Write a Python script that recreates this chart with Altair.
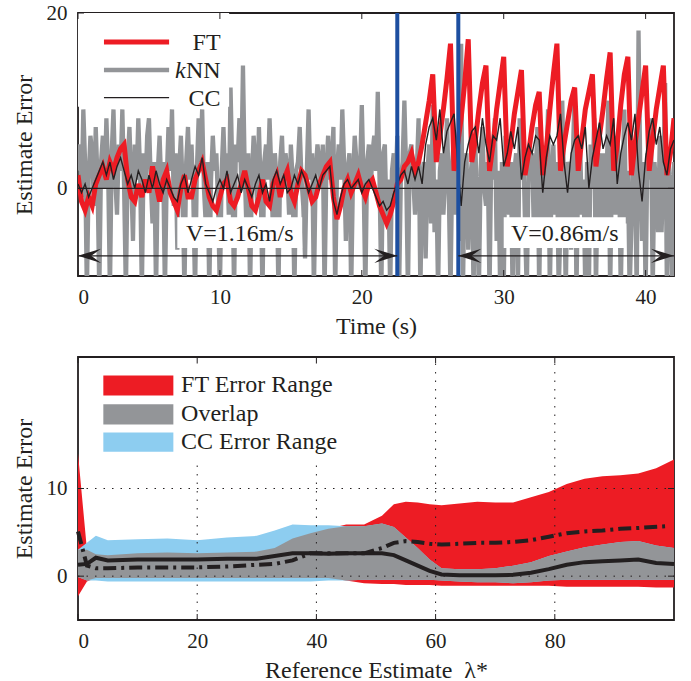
import altair as alt
import pandas as pd

# ---------------- top panel data (Estimate Error vs time) ----------------
STEP = 0.25          # FT / CC sample spacing (s)
KNN_STEP = 0.125     # kNN sample spacing (s)
ft_err = [
    1.5, -1.5, -2.5, -1.0,  -2.0, 0.5, 1.5, 2.5,  1.0, 3.0, 2.0, 3.5,  4.5, 5.0, 1.0, -1.0,
    -1.5, 0.5, -1.0, 1.0,  -0.5, 2.5, 0.5, -1.5,  1.0, 2.0, -0.5, -1.5,  -2.5, 0.0, 1.5, -1.0,
    -1.0, 1.0, 2.0, 3.0,  1.0, -1.0, -2.0, -2.5,  -1.0, 0.5, 1.0, -1.5,  -2.0, -1.0, 0.5, 2.0,
    0.0, -2.0, -2.5, -1.0,  1.0, -1.5, -2.0, 0.5,  1.5, -1.0, 1.0, 2.0,  -0.5, -1.5, 0.5, 2.0,
    1.5, 0.0, -1.5, -1.0,  0.5, 1.5, 2.5, 3.0,  -1.0, -3.5, -2.0, 0.0,  1.0, -0.5, 0.5, 1.5,
    0.0, -1.0, 0.5, 1.0,  -0.5, -2.0, -3.0, -4.0,  -3.0, -1.5,
    0.5, 1.0,
    2.5, 3.0, 4.0, 2.0,  3.0, 5.0, 7.5, 10.0,  13.0, 3.0, 6.0, 9.0,  12.5, 16.5, 2.0, 5.0,
    8.0, 12.0, 17.0, 3.0,  5.5, 9.0, 12.0, 14.0,  2.0, 5.0, 9.0, 12.0,  15.0, 2.5, 5.0, 8.5,
    11.0, 13.5, 1.5, 4.0,  7.0, 9.5, 11.0, 1.5,  4.5, 9.0, 13.0, 16.5,  2.0, 5.0, 7.5, 10.0,
    11.5, 2.0, 5.5, 9.0,  11.0, 13.0, 2.5, 6.0,  9.0, 12.5, 15.5, 2.0,  5.0, 9.5, 13.0, 15.0,
    1.5, 5.0, 8.0, 11.0,  14.0, 2.0, 5.5, 9.0,  11.5, 14.0, 1.5, 4.0,
    8.0,
]
cc_err = [
    0.5, -0.5, 0.5, -1.0,  0.0, 1.0, 2.0, 3.0,  1.5, 3.0, 1.0, 2.5,  3.5, 2.0, 0.5, 1.5,
    0.0, 2.0, 1.0, -0.5,  1.5, 0.0, 2.0, 0.5,  -0.5, 1.0, 0.0, -1.0,  -1.5, 0.5, 1.5, -0.5,
    1.0, 2.5, 1.5, 3.5,  0.5, -0.5, -1.5, 0.0,  1.0, 0.0, 2.0, -0.5,  0.5, 1.5, -0.5, 1.0,
    0.0, -1.0, 0.5, 1.5,  -0.5, 0.5, -1.5, 1.0,  2.0, 0.5, 1.5, -0.5,  0.0, 1.5, 0.5, 2.0,
    1.0, -0.5, 0.5, 1.5,  0.0, 1.5, 2.0, 2.5,  -1.5, -3.0, -1.0, 0.5,  1.0, 0.0, 0.5, 1.0,
    -0.5, 0.5, 1.0, 0.0,  -1.0, -2.0, -1.5, -2.5,  -2.0, -0.5,
    0.5, 1.5,
    2.0, 0.5, 2.5, 1.0,  2.5, 0.5, 5.0, 7.0,  8.0, 5.5, 9.0, 4.0,  6.5, 7.5, 8.5, 3.0,
    -2.0, 3.0, 5.0, 6.5,  7.0, 4.0, 8.0, 5.0,  3.0, 6.0, 5.5, 8.0,  2.5, 4.0, 6.5, 4.5,
    7.0, 1.0, 3.5, 5.0,  4.0, 6.0, 5.5, -0.5,  3.5, 6.0, 5.0, 6.0,  8.5, 3.0, -0.5, 4.0,
    5.5, 6.0, 4.5, 7.0,  0.0, 3.5, 5.5, 7.5,  4.5, 6.0, 5.0, 8.0,  0.5, 4.0, 6.0, 7.5,
    5.5, 8.5, 2.0, -1.5,  3.5, 6.5, 8.0, 5.0,  7.0, 3.0, 1.5, 4.5,
    5.5,
]
knn_err = [
    2, 5, -1, 9, 3, -12, 1, 6,
    4, -2, 7, 1, -12, 3, 6, 0,
    8, 2, -12, 4, 9, 1, -3, 5,
    2, 9, 0, -12, 3, 7, 1, -6,
    5, 1, 8, 2, -12, 4, 0, 6,
    8, 1, -4, 3, -12, 2, 6, 0,
    3, -12, 1, 7, 2, 9, -2, 4,
    -7, 2, 6, 0, -12, 3, 7, 1,
    5, -1, -12, 2, 8, 3, 9, 0,
    -4, 3, -12, 1, 6, 2, 4, -2,
    -12, 2, 7, 1, 4, -3, 11.5, 2,
    -12, 5, 3, 8, 1, 14, 2, -5,
    4, -12, 1, 6, 3, -2, 7, 0,
    -12, 3, 5, 1, 8, 2, -6, 4,
    1, -12, 3, 6, 0, 4, 2, -3,
    5, 1, -12, 2, 3, 7, 1, -2,
    -8, 2, 9, 1, 4, -12, 2, 5,
    3, 0, 5, -12, 2, 6, 1, 3,
    7, -12, 2, 5, 1, 9, 3, -6,
    2, 4, -12, 1, 6, 3, 0, 2,
    9.5, 1, -12, 3, 5, 0, 4, 6,
    2, 11, 1, -12, 4, 5, -4, 1,
    -12, 2, 4, 0, 6, -12, 1, 3,
    10, 2, -12, 4, 5, 1, -3, 2,
    8, -12, 1, 3, -8, 2, 5, -4,
    9.5, -5, 1, -12, 2, 4, -3, 1,
    8, 0, -12, 3, 6, -3, 1, -6,
    16.5, -12, 2, 4, -7, 1, 3, -12,
    5, -2, -12, 2, 7, 0, -2, 3,
    -12, 4, 1, 8, -6, 2, -12, 3,
    -12, 6, 0, -3, 3, -12, 2, 4,
    -12, 8, 1, 5, -4, -12, 2, 3,
    4, -5, 1, 7, -12, 3, 0, -6,
    2, 9, -12, 1, 5, -3, 3, -12,
    -4, 10, 0, -12, 3, 2, -7, 4,
    11, -12, 2, 6, -3, 1, -12, 3,
    -12, 5, 0, 8, -12, 2, 4, -5,
    4, -6, 1, 10, -12, 2, 5, -3,
    6, 3, -12, 1, 9, -4, 2, -12,
    -4, 5, 1, -12, 18, 2, -6, 3,
    -12, 4, 1, 8, -12, 3, 0, -5,
    6, -5, 2, 12, -12, 3, 0, -12,
    3,
]
time_s = [round(i * STEP, 3) for i in range(len(ft_err))]
knn_time_s = [round(i * KNN_STEP, 3) for i in range(len(knn_err))]

speed_change_times = [22.5, 26.8]
arrow_from = [0.0, 26.8]
arrow_to = [22.5, 42.0]
arrow_level = [-7.7, -7.7]
speed_labels = ["V=1.16m/s", "V=0.86m/s"]
speed_label_t = [11.4, 34.3]
speed_label_v = [-5.2, -5.2]
speed_box_t0 = [7.0, 30.0]
speed_box_t1 = [15.8, 38.6]
speed_box_v0 = [-6.8, -6.8]
speed_box_v1 = [-3.3, -3.3]

top_legend_names = ["FT", "kNN", "CC"]
top_legend_colors = ["#ED1C24", "#939598", "#231F20"]
top_legend_widths = [5, 4.5, 1.4]
top_legend_v = [16.7, 13.5, 10.35]

# ---------------- bottom panel data (error ranges vs reference estimate) ----------------
lam = [0, 1.5, 3, 5, 10, 15, 20, 25, 30, 33, 36, 39, 42, 45, 48, 51, 53, 55, 57, 59, 61, 64,
       67, 70, 73, 76, 79, 82, 85, 88, 91, 94, 97, 100]
ft_hi = [14.0, 3.0, 2.5, 2.4, 2.6, 2.7, 2.6, 2.7, 2.8, 3.2, 4.3, 4.9, 5.4, 5.9, 5.9, 6.9, 8.2,
         8.5, 8.4, 8.2, 8.1, 8.3, 8.5, 8.4, 8.4, 9.0, 9.6, 10.5, 11.1, 11.4, 11.5, 11.7, 12.3, 13.3]
ft_lo = [-2.3, -0.6, -0.2, -0.2, -0.2, -0.2, -0.2, -0.2, -0.2, -0.2, -0.2, -0.2, -0.2, -0.5,
         -0.8, -0.9, -0.9, -1.0, -1.0, -1.0, -1.1, -1.1, -1.1, -1.1, -1.1, -1.1, -1.1, -1.2,
         -1.2, -1.2, -1.2, -1.2, -1.3, -1.3]
cc_hi = [3.0, 3.8, 4.6, 4.1, 4.2, 4.3, 4.1, 4.4, 4.6, 5.2, 5.9, 5.8, 5.8, 5.7, 5.7, 6.0, 5.6,
         4.4, 3.2, 1.9, 0.9, 0.8, 0.8, 0.9, 1.2, 1.6, 2.3, 2.8, 3.3, 3.6, 3.9, 4.0, 3.5, 3.2]
cc_lo = [-0.1, -0.5, -0.5, -0.6, -0.6, -0.6, -0.6, -0.6, -0.6, -0.6, -0.6, -0.6, -0.5, -0.5,
         -0.4, -0.4, -0.4, -0.4, -0.4, -0.4, -0.5, -0.6, -0.7, -0.7, -0.8, -0.7, -0.5, -0.4,
         -0.4, -0.4, -0.4, -0.4, -0.4, -0.4]
cc_med = [1.3, 1.4, 2.1, 1.8, 1.9, 1.9, 1.9, 2.0, 2.0, 2.3, 2.6, 2.6, 2.55, 2.6, 2.6, 2.6, 2.4,
          1.8, 1.2, 0.6, 0.2, 0.1, 0.1, 0.1, 0.15, 0.4, 0.8, 1.3, 1.6, 1.7, 1.8, 1.9, 1.5, 1.4]
ft_med_lam = [0, 1.5, 3, 5, 10, 15, 20, 25, 30, 33, 36, 39, 42, 45, 48, 51, 53, 55, 57, 59, 61,
              64, 67, 70, 73, 76, 79, 82, 85, 88, 91, 94, 98.5]
ft_med = [5.1, 1.2, 0.9, 0.9, 1.0, 1.0, 1.0, 1.1, 1.3, 1.4, 1.8, 2.6, 2.6, 2.6, 2.6, 3.2, 3.8,
          4.0, 3.9, 3.7, 3.6, 3.7, 3.8, 3.8, 3.9, 4.1, 4.5, 4.9, 5.1, 5.2, 5.4, 5.5, 5.7]

bot_legend_names = ["FT Error Range", "Overlap", "CC Error Range"]
bot_legend_colors = ["#ED1C24", "#939598", "#8DCDF0"]
bot_legend_v0 = [20.6, 17.3, 14.2]
bot_legend_v1 = [22.9, 19.6, 16.4]

top_xticks = [0, 10, 20, 30, 40]
top_yticks = [0, 20]
bot_xticks = [0, 20, 40, 60, 80]
bot_yticks = [0, 10]

# ---------------- styling ----------------
FONT = "Liberation Serif"
INK = "#231F20"
RED = "#ED1C24"
GREY = "#939598"
LBLUE = "#8DCDF0"
DBLUE = "#1D4FA0"
W, H = 596, 263
TICK = 6

# =============== top chart ===============
top_df = pd.DataFrame({"t": time_s, "FT": ft_err, "CC": cc_err})
knn_df = pd.DataFrame({"t": knn_time_s, "kNN": knn_err})
xs_t = alt.Scale(domain=[0, 42], nice=False, zero=False)
ys_t = alt.Scale(domain=[-10, 20], nice=False, zero=False)


def XT(f):
    return alt.X(f, scale=xs_t)


def YT(f):
    return alt.Y(f, scale=ys_t)


knn_line = alt.Chart(knn_df).mark_line(color=GREY, strokeWidth=4.3, clip=True).encode(
    x=alt.X("t:Q", scale=xs_t, axis=alt.Axis(values=top_xticks, title="Time (s)", format="d")),
    y=alt.Y("kNN:Q", scale=ys_t, axis=alt.Axis(values=top_yticks, title="Estimate Error", format="d")),
)
base_t = alt.Chart(top_df)
ft_line = base_t.mark_line(color=RED, strokeWidth=5, clip=True).encode(x=XT("t:Q"), y=YT("FT:Q"))
cc_line = base_t.mark_line(color=INK, strokeWidth=1.4, clip=True).encode(x=XT("t:Q"), y=YT("CC:Q"))

zero_line = alt.Chart(pd.DataFrame({"t0": [0], "t1": [42], "v": [0]})).mark_rule(
    color=INK, strokeWidth=1.3).encode(x=XT("t0:Q"), x2="t1:Q", y=YT("v:Q"))
blue_lines = alt.Chart(pd.DataFrame({"t": speed_change_times, "v0": [-10, -10], "v1": [20, 20]})).mark_rule(
    color=DBLUE, strokeWidth=4).encode(x=XT("t:Q"), y=YT("v0:Q"), y2="v1:Q")

ann_df = pd.DataFrame({
    "a0": arrow_from, "a1": arrow_to, "av": arrow_level,
    "lab": speed_labels, "lt": speed_label_t, "lv": speed_label_v,
    "b0": speed_box_t0, "b1": speed_box_t1, "bv0": speed_box_v0, "bv1": speed_box_v1,
})
ann = alt.Chart(ann_df)
arrow_lines = ann.mark_rule(color=INK, strokeWidth=1.2).encode(x=XT("a0:Q"), x2="a1:Q", y=YT("av:Q"))
LEFT_HEAD = "M 0 0 L 2 -0.62 L 1.15 0 L 2 0.62 Z"
RIGHT_HEAD = "M 0 0 L -2 -0.62 L -1.15 0 L -2 0.62 Z"
heads_left = ann.mark_point(shape=LEFT_HEAD, filled=True, size=530, color=INK, opacity=1).encode(
    x=XT("a0:Q"), y=YT("av:Q"))
heads_right = ann.mark_point(shape=RIGHT_HEAD, filled=True, size=530, color=INK, opacity=1).encode(
    x=XT("a1:Q"), y=YT("av:Q"))
label_boxes = ann.mark_rect(color="white").encode(x=XT("b0:Q"), x2="b1:Q", y=YT("bv0:Q"), y2="bv1:Q")
label_text = ann.mark_text(font=FONT, fontSize=24, color=INK, baseline="middle").encode(
    x=XT("lt:Q"), y=YT("lv:Q"), text="lab:N")

# legend box (white) hiding spikes behind it, then legend items
tleg_box = alt.Chart(pd.DataFrame({"x0": [0], "x1": [10.65], "y0": [9.3], "y1": [20]})).mark_rect(
    color="white").encode(x=XT("x0:Q"), x2="x1:Q", y=YT("y0:Q"), y2="y1:Q")
tleg_items = []
for name, col, wid, v in zip(top_legend_names, top_legend_colors, top_legend_widths, top_legend_v):
    d = pd.DataFrame({"x0": [1.83], "x1": [6.42], "v": [v], "tx": [10.05], "tv": [v - 0.15]})
    tleg_items.append(alt.Chart(d).mark_rule(color=col, strokeWidth=wid).encode(
        x=XT("x0:Q"), x2="x1:Q", y=YT("v:Q")))
    if name == "kNN":
        tleg_items.append(alt.Chart(d).mark_text(font=FONT, fontSize=24, color=INK, align="right",
                                                 baseline="middle", text="NN").encode(
            x=XT("tx:Q"), y=YT("tv:Q")))
        tleg_items.append(alt.Chart(d).mark_text(font=FONT, fontSize=24, color=INK, align="right",
                                                 baseline="middle", text="k", fontStyle="italic",
                                                 dx=-35).encode(x=XT("tx:Q"), y=YT("tv:Q")))
    else:
        tleg_items.append(alt.Chart(d).mark_text(font=FONT, fontSize=24, color=INK, align="right",
                                                 baseline="middle", text=name).encode(
            x=XT("tx:Q"), y=YT("tv:Q")))

txt_df = pd.DataFrame({"v": top_xticks})
tyt_df = pd.DataFrame({"v": top_yticks})
top_ticks = [
    alt.Chart(txt_df).mark_rule(color=INK, strokeWidth=1).encode(
        x=XT("v:Q"), y=alt.value(H), y2=alt.value(H - TICK)),
    alt.Chart(txt_df).mark_rule(color=INK, strokeWidth=1).encode(
        x=XT("v:Q"), y=alt.value(0), y2=alt.value(TICK)),
    alt.Chart(tyt_df).mark_rule(color=INK, strokeWidth=1).encode(
        y=YT("v:Q"), x=alt.value(0), x2=alt.value(TICK)),
    alt.Chart(tyt_df).mark_rule(color=INK, strokeWidth=1).encode(
        y=YT("v:Q"), x=alt.value(W), x2=alt.value(W - TICK)),
]

top_chart = alt.layer(
    knn_line, ft_line, cc_line, zero_line, blue_lines, arrow_lines, heads_left, heads_right,
    label_boxes, label_text, tleg_box, *tleg_items, *top_ticks,
).properties(width=W, height=H)

# =============== bottom chart ===============
bdf = pd.DataFrame({"lam": lam, "ft_lo": ft_lo, "ft_hi": ft_hi, "cc_lo": cc_lo, "cc_hi": cc_hi,
                    "cc_med": cc_med})
bdf["ov_lo"] = bdf[["ft_lo", "cc_lo"]].max(axis=1)
bdf["ov_hi"] = bdf[["ft_hi", "cc_hi"]].min(axis=1)
fmd = pd.DataFrame({"lam": ft_med_lam, "ft_med": ft_med})

xs_b = alt.Scale(domain=[0, 100], nice=False, zero=False)
ys_b = alt.Scale(domain=[-5, 25], nice=False, zero=False)


def XB(f):
    return alt.X(f, scale=xs_b)


def YB(f):
    return alt.Y(f, scale=ys_b)


bb = alt.Chart(bdf)
ft_area = bb.mark_area(color=RED, opacity=1).encode(
    x=alt.X("lam:Q", scale=xs_b,
            axis=alt.Axis(values=bot_xticks, title="Reference Estimate\u00a0\u00a0λ*", format="d")),
    y=alt.Y("ft_lo:Q", scale=ys_b, axis=alt.Axis(values=bot_yticks, title="Estimate Error",
                                                 format="d")),
    y2="ft_hi:Q")
cc_area = bb.mark_area(color=LBLUE, opacity=1).encode(x=XB("lam:Q"), y=YB("cc_lo:Q"), y2="cc_hi:Q")
ov_area = bb.mark_area(color=GREY, opacity=1).encode(x=XB("lam:Q"), y=YB("ov_lo:Q"), y2="ov_hi:Q")

gx = alt.Chart(pd.DataFrame({"v": bot_xticks[1:], "y0": [-5] * 4, "y1": [25] * 4})).mark_rule(
    color=INK, strokeWidth=1, strokeDash=[1.5, 7]).encode(x=XB("v:Q"), y=YB("y0:Q"), y2="y1:Q")
gy = alt.Chart(pd.DataFrame({"v": bot_yticks, "x0": [0, 0], "x1": [100, 100]})).mark_rule(
    color=INK, strokeWidth=1, strokeDash=[1.5, 7]).encode(y=YB("v:Q"), x=XB("x0:Q"), x2="x1:Q")

cc_med_line = bb.mark_line(color=INK, strokeWidth=4).encode(x=XB("lam:Q"), y=YB("cc_med:Q"))
ft_med_line = alt.Chart(fmd).mark_line(color=INK, strokeWidth=4, strokeDash=[13, 5, 3, 5]).encode(
    x=XB("lam:Q"), y=YB("ft_med:Q"))

bleg_box = alt.Chart(pd.DataFrame({"x0": [2.9], "x1": [46], "y0": [12.7], "y1": [24.2]})).mark_rect(
    color="white").encode(x=XB("x0:Q"), x2="x1:Q", y=YB("y0:Q"), y2="y1:Q")
bleg_df = pd.DataFrame({"name": bot_legend_names, "col": bot_legend_colors,
                        "v0": bot_legend_v0, "v1": bot_legend_v1})
bleg_df["vm"] = (bleg_df["v0"] + bleg_df["v1"]) / 2
bleg_df["x0"] = 4.25
bleg_df["x1"] = 16.0
bleg_df["tx"] = 17.3
bleg_sw = alt.Chart(bleg_df).mark_rect().encode(
    x=XB("x0:Q"), x2="x1:Q", y=YB("v0:Q"), y2="v1:Q",
    color=alt.Color("col:N", scale=None, legend=None))
bleg_tx = alt.Chart(bleg_df).mark_text(font=FONT, fontSize=24, color=INK, align="left",
                                       baseline="middle").encode(
    x=XB("tx:Q"), y=YB("vm:Q"), text="name:N")

bxt_df = pd.DataFrame({"v": bot_xticks})
byt_df = pd.DataFrame({"v": bot_yticks})
bot_ticks = [
    alt.Chart(bxt_df).mark_rule(color=INK, strokeWidth=1).encode(
        x=XB("v:Q"), y=alt.value(H), y2=alt.value(H - TICK)),
    alt.Chart(bxt_df).mark_rule(color=INK, strokeWidth=1).encode(
        x=XB("v:Q"), y=alt.value(0), y2=alt.value(TICK)),
    alt.Chart(byt_df).mark_rule(color=INK, strokeWidth=1).encode(
        y=YB("v:Q"), x=alt.value(0), x2=alt.value(TICK)),
    alt.Chart(byt_df).mark_rule(color=INK, strokeWidth=1).encode(
        y=YB("v:Q"), x=alt.value(W), x2=alt.value(W - TICK)),
]

bottom_chart = alt.layer(
    ft_area, cc_area, ov_area, gx, gy, cc_med_line, ft_med_line, bleg_box, bleg_sw, bleg_tx,
    *bot_ticks,
).properties(width=W, height=H)

chart = alt.vconcat(top_chart, bottom_chart, spacing=16).resolve_scale(
    x="independent", y="independent"
).properties(
    padding={"left": 11, "top": 1, "right": 0, "bottom": 0},
    background="white",
).configure_view(
    stroke=INK, strokeWidth=1.8,
).configure_axis(
    labelFont=FONT, titleFont=FONT, labelFontSize=21, titleFontSize=24,
    titleFontWeight="normal", labelColor=INK, titleColor=INK,
    ticks=False, domain=False, grid=False,
).configure_axisX(
    labelPadding=10, titlePadding=7,
).configure_axisY(
    labelPadding=11, titlePadding=10,
)

chart.save("out.html", embed_options={"renderer": "svg", "actions": False})
